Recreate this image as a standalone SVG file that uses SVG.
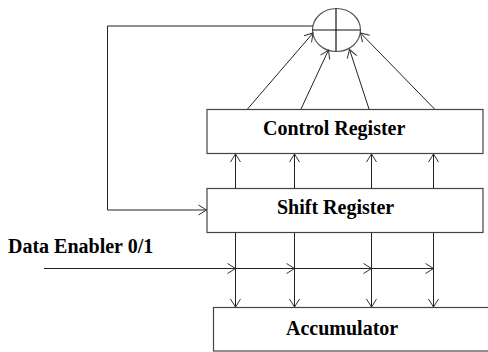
<svg xmlns="http://www.w3.org/2000/svg" width="488" height="352" viewBox="0 0 488 352">
<style>
.box{fill:#fff;stroke:#444;stroke-width:1.2}
.ln{fill:none;stroke:#222;stroke-width:1}
.t{font-family:"Liberation Serif","Times New Roman",serif;font-weight:bold;font-size:20px;fill:#000}
</style>
<defs>
<marker id="ah" markerUnits="userSpaceOnUse" markerWidth="12" markerHeight="12" viewBox="-10 -6 12 12" refX="0" refY="0" orient="auto">
<path d="M-8,-5 L0,0 L-8,5" fill="none" stroke="#333" stroke-width="1"/>
</marker>
</defs>
<rect width="488" height="352" fill="#fff"/>
<g id="xor">
<ellipse cx="336.5" cy="30" rx="24" ry="21.5" fill="#fff" stroke="#555" stroke-width="1.2"/>
<line x1="312.5" y1="30" x2="360.5" y2="30" stroke="#111" stroke-width="1.2"/>
<line x1="336" y1="8.5" x2="336" y2="51.5" stroke="#111" stroke-width="1.2"/>
</g>
<g id="control">
<rect class="box" x="207" y="109.5" width="276" height="44"/>
<text class="t" x="263" y="134.5">Control Register</text>
</g>
<g id="shift">
<rect class="box" x="207" y="188.5" width="276" height="44"/>
<text class="t" x="277" y="213.5">Shift Register</text>
</g>
<g id="accumulator">
<rect class="box" x="213.5" y="307.5" width="290" height="43.5"/>
<text class="t" x="286" y="335">Accumulator</text>
</g>
<g id="data-enabler">
<text class="t" x="8" y="252.5">Data Enabler 0/1</text>
</g>
<g id="connectors">
<path class="ln" d="M313,26 H107.5 V210 H206.5" marker-end="url(#ah)"/>
<line class="ln" x1="247.5" y1="109" x2="313" y2="33" marker-end="url(#ah)"/>
<line class="ln" x1="301" y1="109" x2="328.5" y2="50" marker-end="url(#ah)"/>
<line class="ln" x1="369" y1="109" x2="349.5" y2="49.5" marker-end="url(#ah)"/>
<line class="ln" x1="434.5" y1="109" x2="360.5" y2="33" marker-end="url(#ah)"/>
<line class="ln" x1="235.5" y1="188.5" x2="235.5" y2="154" marker-end="url(#ah)"/>
<line class="ln" x1="294.5" y1="188.5" x2="294.5" y2="154" marker-end="url(#ah)"/>
<line class="ln" x1="371.5" y1="188.5" x2="371.5" y2="154" marker-end="url(#ah)"/>
<line class="ln" x1="433.5" y1="188.5" x2="433.5" y2="154" marker-end="url(#ah)"/>
<line class="ln" x1="235.5" y1="233" x2="235.5" y2="307" marker-end="url(#ah)"/>
<line class="ln" x1="294.5" y1="233" x2="294.5" y2="307" marker-end="url(#ah)"/>
<line class="ln" x1="371.5" y1="233" x2="371.5" y2="307" marker-end="url(#ah)"/>
<line class="ln" x1="433.5" y1="233" x2="433.5" y2="307" marker-end="url(#ah)"/>
<line class="ln" x1="44" y1="268.5" x2="235.5" y2="268.5" marker-end="url(#ah)"/>
<line class="ln" x1="235.5" y1="268.5" x2="294.5" y2="268.5" marker-end="url(#ah)"/>
<line class="ln" x1="294.5" y1="268.5" x2="371.5" y2="268.5" marker-end="url(#ah)"/>
<line class="ln" x1="371.5" y1="268.5" x2="433.5" y2="268.5" marker-end="url(#ah)"/>
</g>
</svg>
